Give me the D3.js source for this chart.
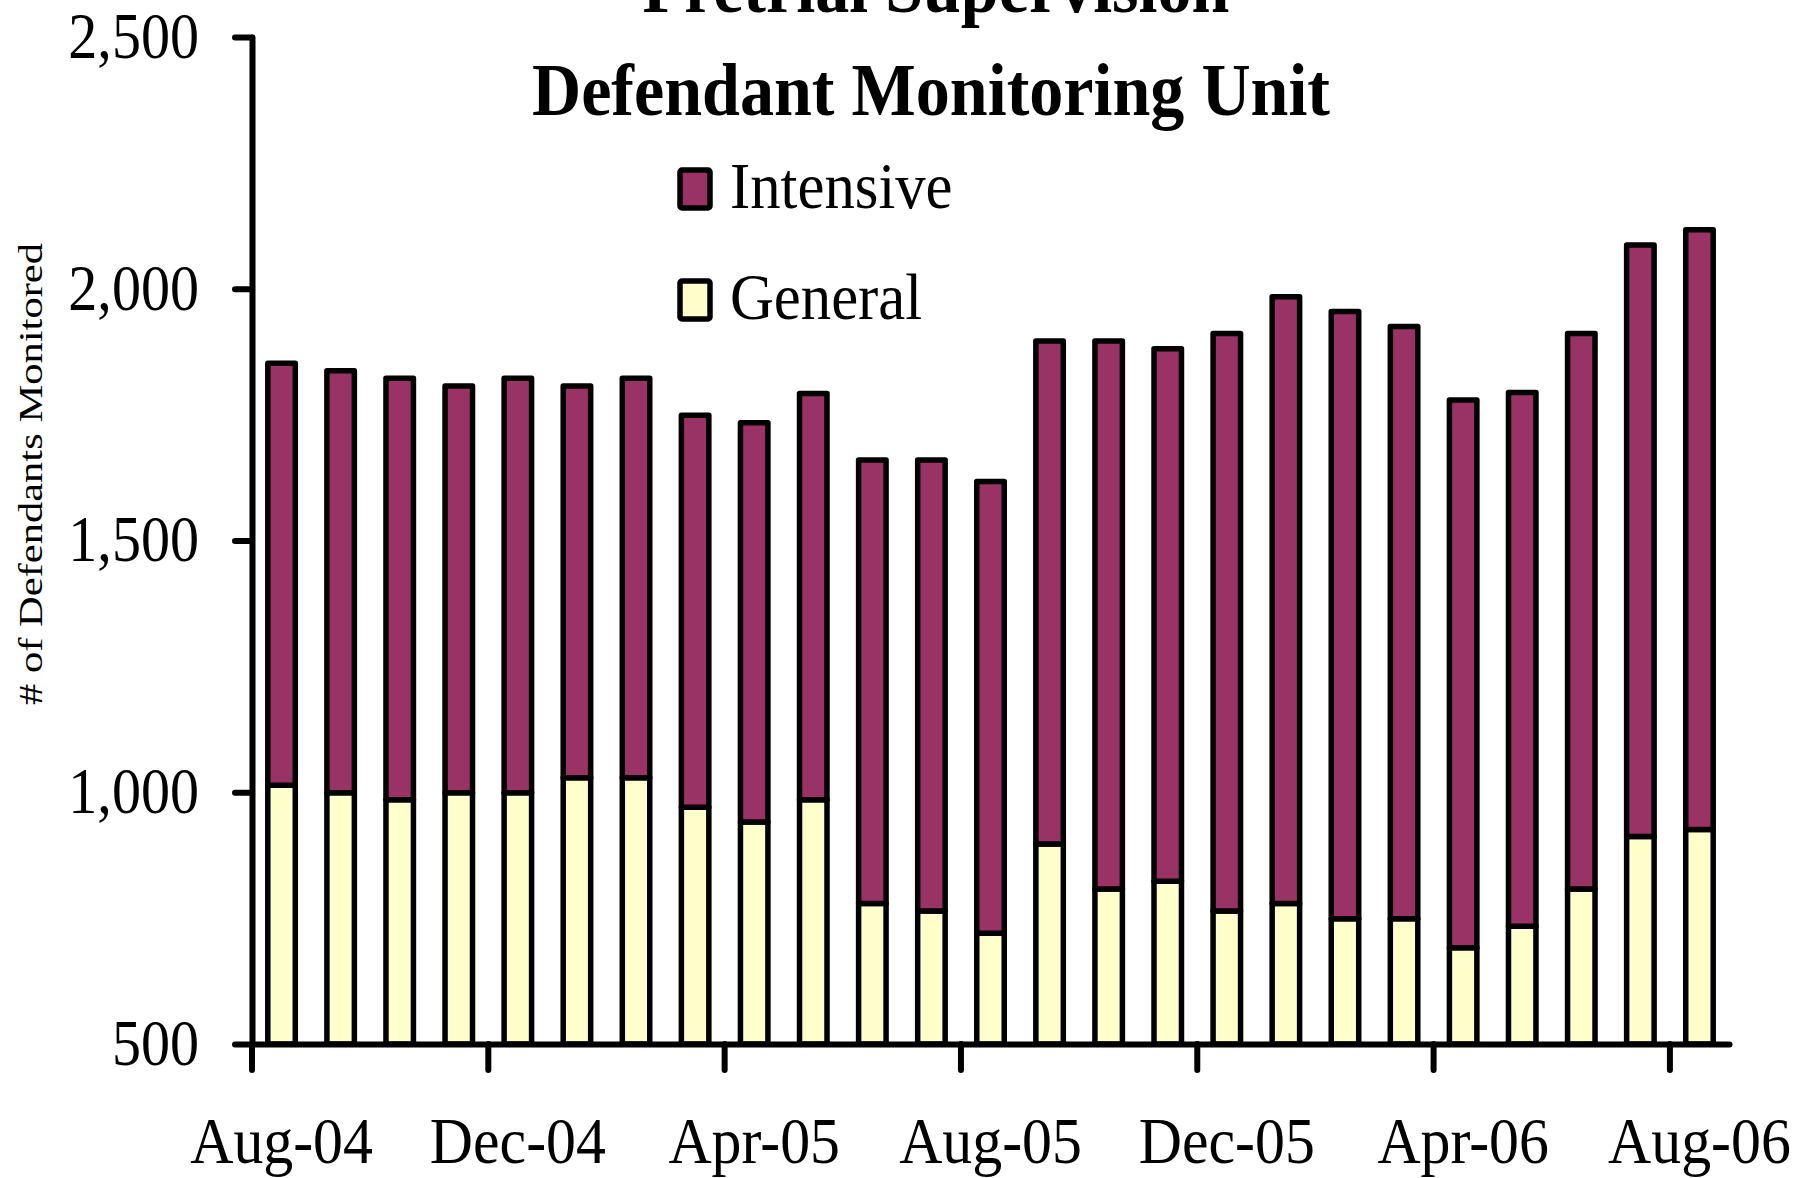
<!DOCTYPE html>
<html>
<head>
<meta charset="utf-8">
<script src="https://cdn.jsdelivr.net/npm/d3@7"></script>
<style>
  body { margin: 0; background: #fff; }
  text { font-family: "Liberation Serif", "Times New Roman", serif; fill: #000; }
</style>
</head>
<body>
<svg></svg>
<script>
// monthly counts
var months = ["Aug-04", "Sep-04", "Oct-04", "Nov-04", "Dec-04", "Jan-05", "Feb-05", "Mar-05",
    "Apr-05", "May-05", "Jun-05", "Jul-05", "Aug-05", "Sep-05", "Oct-05", "Nov-05", "Dec-05",
    "Jan-06", "Feb-06", "Mar-06", "Apr-06", "May-06", "Jun-06", "Jul-06", "Aug-06"];
var general = [1014, 999, 985, 999, 999, 1029, 1029, 970, 941, 985, 779, 764, 720,
    897, 808, 823, 764, 779, 749, 749, 691, 734, 808, 912, 926];
var intensive = [838, 838, 837, 808, 823, 778, 793, 779, 793, 807, 881, 896, 897,
    999, 1088, 1058, 1147, 1205, 1206, 1176, 1088, 1060, 1103, 1175, 1191];
var yTicks = [500, 1000, 1500, 2000, 2500];
var xTicks = months.filter(function (d, i) { return i % 4 === 0; });
var seriesNames = ["Intensive", "General"];
var colors = { Intensive: "#993366", General: "#FFFFCC" };

var svg = d3.select("svg").attr("width", 1812).attr("height", 1178),
    width = +svg.attr("width"),
    height = +svg.attr("height");

var x = d3.scaleBand().domain(months).range([252, 1729]).paddingInner(0.535).paddingOuter(0.2675);
var y = d3.scaleLinear().domain([500, 2500]).range([1044, 37]);
var step = x.step();

// squeeze the text a bit, the original font is narrow
function squeeze(sel, k) {
    sel.each(function () {
        var w = this.getComputedTextLength();
        d3.select(this).attr("textLength", w * k).attr("lengthAdjust", "spacingAndGlyphs");
    });
}

var rows = months.map(function (m, i) {
    return { month: m, General: general[i], Intensive: intensive[i] };
});
var stacked = d3.stack().keys(["General", "Intensive"])(rows);

// bars
svg.append("g").selectAll("g")
    .data(stacked)
    .enter().append("g")
    .attr("fill", function (d) { return colors[d.key]; })
    .selectAll("rect")
    .data(function (d) { return d; })
    .enter().append("rect")
    .attr("x", function (d) { return x(d.data.month); })
    .attr("width", x.bandwidth())
    .attr("y", function (d) { return y(d[1]); })
    .attr("height", function (d) { return y(Math.max(500, d[0])) - y(d[1]); })
    .attr("stroke", "#000")
    .attr("stroke-width", 5.5)
    .attr("stroke-linejoin", "round");

// y axis
var yAxis = svg.append("g")
    .attr("transform", "translate(252,0)")
    .call(d3.axisLeft(y).tickValues(yTicks).tickFormat(d3.format(",")).tickSize(17).tickSizeOuter(0).tickPadding(36));
yAxis.selectAll("path, line").attr("stroke", "#000").attr("stroke-width", 6).attr("stroke-linecap", "round");
yAxis.selectAll("text").attr("font-size", 66).attr("font-family", null).attr("dy", "0.31em").call(squeeze, 0.88);

// x axis, ticks sit at the left edge of every fourth month
var xAxis = svg.append("g")
    .attr("transform", "translate(0,1044)")
    .call(d3.axisBottom(x).tickValues(xTicks).tickSize(0).tickSizeOuter(0).tickPadding(73));
xAxis.select(".domain").attr("stroke", "#000").attr("stroke-width", 6).attr("stroke-linecap", "round");
xAxis.selectAll(".tick").append("line")
    .attr("x1", -step / 2).attr("x2", -step / 2)
    .attr("y1", 0).attr("y2", 26)
    .attr("stroke", "#000").attr("stroke-width", 6).attr("stroke-linecap", "round");
xAxis.selectAll("text").attr("font-size", 65).attr("font-family", null).call(squeeze, 0.92);

// axis title
svg.append("text")
    .attr("transform", "translate(42,474) rotate(-90)")
    .attr("text-anchor", "middle")
    .attr("font-size", 34)
    .text("# of Defendants Monitored")
    .attr("textLength", 462).attr("lengthAdjust", "spacingAndGlyphs");

// title (first line is cut off by the top edge)
svg.append("text")
    .attr("x", 936).attr("y", 12)
    .attr("text-anchor", "middle")
    .attr("font-size", 74).attr("font-weight", "bold")
    .text("Pretrial Supervision")
    .call(squeeze, 0.92);
svg.append("text")
    .attr("x", 931).attr("y", 115)
    .attr("text-anchor", "middle")
    .attr("font-size", 74).attr("font-weight", "bold")
    .text("Defendant Monitoring Unit")
    .call(squeeze, 0.92);

// legend
var legend = svg.append("g").selectAll("g")
    .data(seriesNames)
    .enter().append("g")
    .attr("transform", function (d, i) { return "translate(680," + (170 + i * 111) + ")"; });
legend.append("rect")
    .attr("width", 30).attr("height", 38)
    .attr("rx", 2)
    .attr("fill", function (d) { return colors[d]; })
    .attr("stroke", "#000").attr("stroke-width", 5.5);
legend.append("text")
    .attr("x", 50).attr("y", 38)
    .attr("font-size", 66)
    .text(function (d) { return d; })
    .call(squeeze, 0.92);
</script>
</body>
</html>
